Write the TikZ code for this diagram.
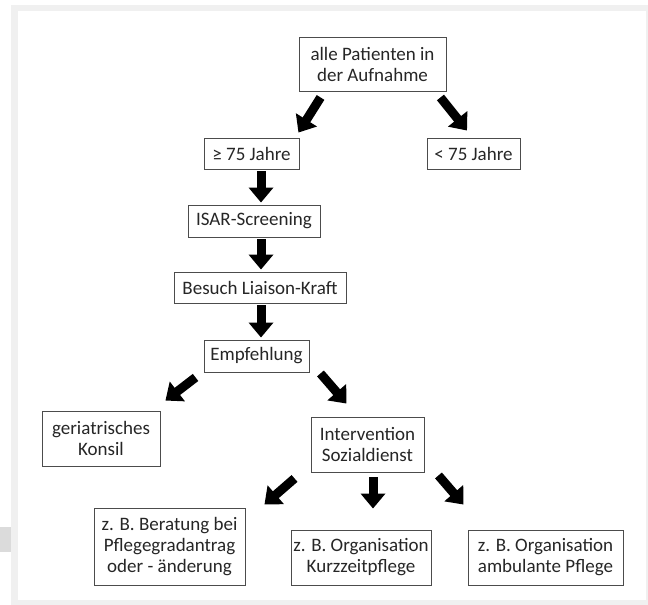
\documentclass[tikz,border=0pt]{standalone}
\usepackage{fontspec}
\setmainfont{Carlito}
\usetikzlibrary{arrows.meta}
\begin{document}
\begin{tikzpicture}[x=1pt,y=-1pt,
 box/.style={draw=black!70,line width=0.9pt,fill=white,align=center,inner sep=0pt,
   font=\fontsize{19}{21}\selectfont,text=black!85},
 fat/.style={line width=9pt,-{Triangle[width=24pt,length=15pt]}}]
\useasboundingbox (0,0) rectangle (648,605);
\fill[black!6] (11,5) rectangle (648,605);
\fill[white] (18,11) rectangle (646,600);
\fill[black!14] (0,527) rectangle (11,552);
% nodes
\node[box,minimum width=147pt,minimum height=54pt] (A) at (372.5,64) {alle Patienten in\\der Aufnahme};
\node[box,minimum width=95pt,minimum height=31pt] (B) at (251.5,153.5) {≥ 75 Jahre};
\node[box,minimum width=93pt,minimum height=31pt] (C) at (473.5,153.5) {< 75 Jahre};
\node[box,minimum width=132pt,minimum height=32pt] (D) at (254,221) {ISAR-Screening};
\node[box,minimum width=172pt,minimum height=31pt] (E) at (260,287.5) {Besuch Liaison-Kraft};
\node[box,minimum width=105pt,minimum height=32pt] (F) at (256.5,356) {Empfehlung};
\node[box,minimum width=118pt,minimum height=55pt] (G) at (101,438.5) {geriatrisches\\Konsil};
\node[box,minimum width=113pt,minimum height=55pt] (H) at (367.5,444.5) {Intervention\\Sozialdienst};
\node[box,minimum width=151pt,minimum height=77pt] (I) at (169.5,546.5) {z. B. Beratung bei\\Pflegegradantrag\\oder - änderung};
\node[box,minimum width=140pt,minimum height=55pt] (J) at (361,557.5) {z. B. Organisation\\Kurzzeitpflege};
\node[box,minimum width=155pt,minimum height=55pt] (K) at (545.5,557.5) {z. B. Organisation\\ambulante Pflege};
% arrows
\draw[fat] ([shift={(22,6)}]A.south west) -- ([shift={(-1,-5)}]B.north east);
\draw[fat] ([shift={(-6,6)}]A.south east) -- ([shift={(-6.5,-7)}]C.north);
\draw[fat] ([shift={(9.5,2)}]B.south) -- ([shift={(7,-2)}]D.north);
\draw[fat] ([shift={(7,2)}]D.south) -- ([shift={(1,-2)}]E.north);
\draw[fat] ([shift={(1,2)}]E.south) -- ([shift={(4.5,-2)}]F.north);
\draw[fat] ([shift={(-8,5)}]F.south west) -- ([shift={(5,-10)}]G.north east);
\draw[fat] ([shift={(11,1)}]F.south east) -- ([shift={(36,-13)}]H.north west);
\draw[fat] ([shift={(-16,6)}]H.south west) -- ([shift={(19,-3)}]I.north east);
\draw[fat] ([shift={(5.5,5)}]H.south) -- ([shift={(12,-21)}]J.north);
\draw[fat] ([shift={(14,3)}]H.south east) -- ([shift={(-4,-25)}]K.north west);
\end{tikzpicture}
\end{document}
